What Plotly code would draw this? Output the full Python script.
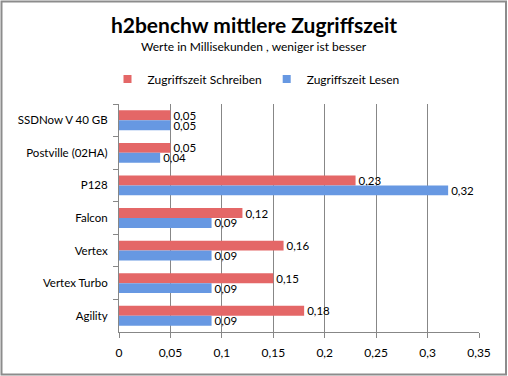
import plotly.graph_objects as go

categories = ["SSDNow V 40 GB", "Postville (02HA)", "P128", "Falcon", "Vertex", "Vertex Turbo", "Agility"]
schreiben = [0.05, 0.05, 0.23, 0.12, 0.16, 0.15, 0.18]
lesen = [0.05, 0.04, 0.32, 0.09, 0.09, 0.09, 0.09]
x_ticks = [0, 0.05, 0.1, 0.15, 0.2, 0.25, 0.3, 0.35]
series_names = ["Zugriffszeit Schreiben", "Zugriffszeit Lesen"]
series_colors = ["#E46767", "#6798E2"]

FONT = "Lato, 'Open Sans', sans-serif"
W, H = 508, 376
L, R, T, B = 119, 29, 104, 44
PW, PH = W - L - R, H - T - B

def px_to_paper_x(px):
    return (px - L) / PW

def px_to_paper_y(py):
    return (H - B - py) / PH

fig = go.Figure()
for name, vals, col in zip(series_names, [schreiben, lesen], series_colors):
    fig.add_trace(go.Bar(
        y=categories, x=vals, orientation="h", name=name, showlegend=False,
        marker=dict(color=col, line=dict(width=0)),
        texttemplate="%{x}", textposition="outside", constraintext="none",
        textfont=dict(size=11.5, color="black", family=FONT), cliponaxis=False,
    ))
# legend entries with small square keys
for name, col in zip(series_names, series_colors):
    fig.add_trace(go.Scatter(
        x=[None], y=[None], mode="markers", name=name,
        marker=dict(symbol="square", size=8, color=col),
    ))

fig.update_layout(
    width=W, height=H,
    margin=dict(l=L, r=R, t=T, b=B),
    paper_bgcolor="white", plot_bgcolor="white",
    separators=", ",
    barmode="group", bargap=0.39, bargroupgap=0,
    font=dict(family=FONT, size=12, color="black"),
    title=dict(text="<b>h2benchw mittlere Zugriffszeit</b>", x=254 / W,
               xanchor="center", xref="container",
               y=1 - 25.5 / H, yanchor="middle", yref="container",
               font=dict(size=21, family=FONT, color="black")),
    showlegend=True,
    legend=dict(orientation="h", x=px_to_paper_x(256), xanchor="center",
                y=px_to_paper_y(79), yanchor="middle",
                font=dict(size=12, family=FONT), itemwidth=30,
                traceorder="normal", bgcolor="rgba(0,0,0,0)"),
    xaxis=dict(range=[0, 0.35], tickvals=x_ticks, showgrid=True, gridcolor="#878787",
               gridwidth=1, zeroline=False, showline=True, linecolor="#878787",
               ticks="outside", ticklen=5, tickcolor="#878787",
               ticklabelstandoff=5, tickfont=dict(size=12, family=FONT)),
    yaxis=dict(categoryorder="array", categoryarray=categories, autorange="reversed",
               showline=True, linecolor="#878787", ticks="outside", ticklen=5,
               tickcolor="#878787", tickson="boundaries", showgrid=False,
               ticklabelstandoff=8, tickfont=dict(size=11.5, family=FONT)),
    annotations=[dict(text="Werte in Millisekunden , weniger ist besser", xref="paper", yref="paper",
                      x=px_to_paper_x(254), y=px_to_paper_y(46.5), xanchor="center", yanchor="middle",
                      showarrow=False, font=dict(size=12, family=FONT, color="black"))],
    shapes=[dict(type="rect", xref="paper", yref="paper",
                 x0=px_to_paper_x(1.5), x1=px_to_paper_x(506), y0=px_to_paper_y(374.5), y1=px_to_paper_y(1.5),
                 line=dict(color="#8C8C8C", width=2), fillcolor="rgba(0,0,0,0)", layer="below")],
)

fig.write_html("out.html", config={"displayModeBar": False},
               post_script="document.body.style.margin='0';document.body.style.overflow='hidden';")
